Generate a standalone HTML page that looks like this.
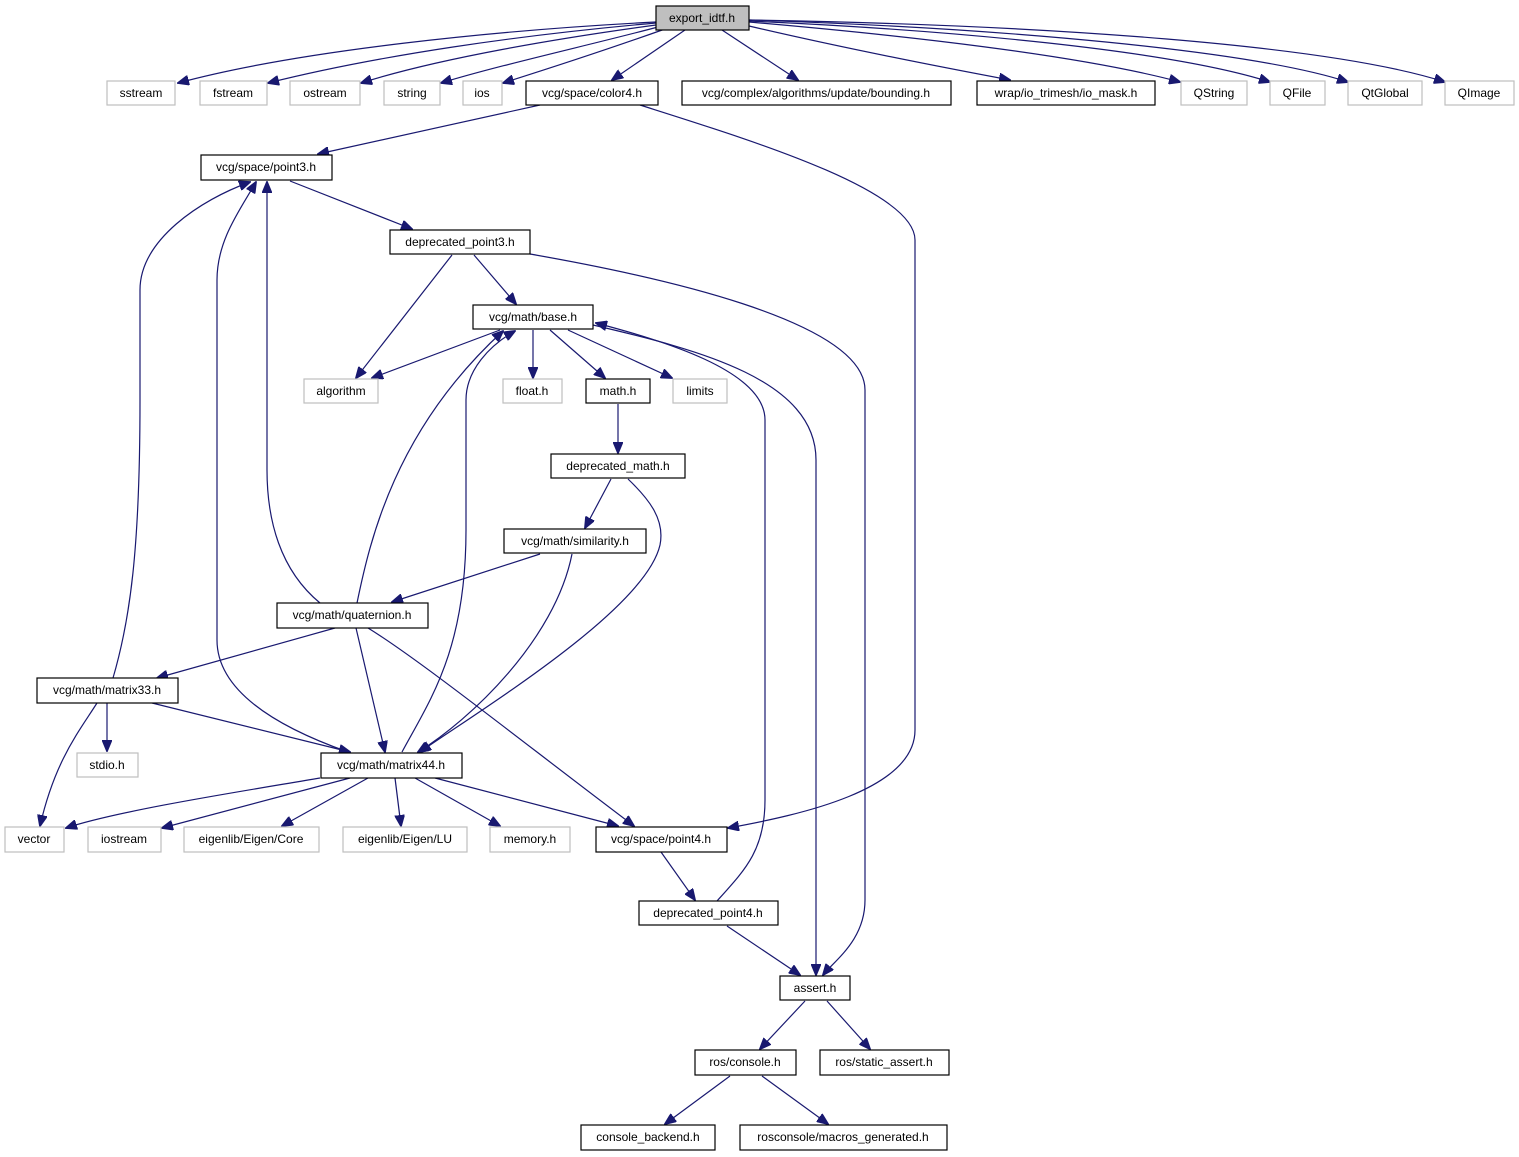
<!DOCTYPE html>
<html><head><meta charset="utf-8"><style>
html,body{margin:0;padding:0;background:#fff;}
svg{display:block;}
text{font-family:"Liberation Sans",sans-serif;font-size:12px;fill:#000;text-anchor:middle;}
.b{fill:#fff;stroke:#000;stroke-width:1.2;}
.g{fill:#fff;stroke:#bfbfbf;stroke-width:1.2;}
.r{fill:#bfbfbf;stroke:#000;stroke-width:1.2;}
path{fill:none;stroke:#191970;stroke-width:1.2;}
</style></head><body>
<svg width="1519" height="1157" viewBox="0 0 1519 1157" xmlns="http://www.w3.org/2000/svg">
<defs><marker id="a" markerWidth="12" markerHeight="10" refX="11" refY="5" orient="auto" markerUnits="userSpaceOnUse"><polygon points="0,0 12,5 0,10" fill="#191970" stroke="#191970"/></marker></defs>
<g marker-end="url(#a)">
<path d="M656,22 C500,30 300,50 178,83"/>
<path d="M656,23 C520,35 380,55 268,83"/>
<path d="M656,25 C560,38 440,58 361,83"/>
<path d="M658,27 C590,45 500,65 441,83"/>
<path d="M665,29 C620,45 560,65 503,83"/>
<path d="M685,30 L612,80"/>
<path d="M722,30 L798,80"/>
<path d="M749,26 C830,45 930,65 1010,80"/>
<path d="M749,22 C900,35 1080,55 1180,82"/>
<path d="M749,21 C950,30 1170,50 1270,82"/>
<path d="M749,20 C1000,28 1250,50 1348,82"/>
<path d="M749,20 C1050,25 1330,45 1445,82"/>
<path d="M540,105 L318,154"/>
<path d="M640,105 C750,140 915,190 915,240 L915,730 C915,790 800,815 728,828"/>
<path d="M290,181 L412,229"/>
<path d="M474,255 L516,304"/>
<path d="M452,255 L356,378"/>
<path d="M530,254 C650,275 865,320 865,390 L865,900 C865,940 835,960 823,975"/>
<path d="M500,330 L372,378"/>
<path d="M533,330 L533,378"/>
<path d="M550,330 L605,378"/>
<path d="M568,330 L672,378"/>
<path d="M593,325 C700,350 816,380 816,460 L816,975"/>
<path d="M618,404 L618,453"/>
<path d="M611,479 L585,528"/>
<path d="M628,479 C650,500 665,520 660,545 C645,610 480,710 420,752"/>
<path d="M540,554 L392,602"/>
<path d="M572,554 C555,640 470,720 418,752"/>
<path d="M320,603 C280,570 267,520 267,470 L267,182"/>
<path d="M357,603 C370,540 395,430 503,331"/>
<path d="M335,628 L157,678"/>
<path d="M356,628 L385,752"/>
<path d="M368,628 C420,660 520,740 634,826"/>
<path d="M113,678 C130,620 140,550 140,400 L140,290 C140,240 200,200 250,182"/>
<path d="M107,703 L107,751"/>
<path d="M97,703 C80,730 55,760 40,826"/>
<path d="M152,703 L350,752"/>
<path d="M348,752 C300,735 217,700 217,640 L217,280 C217,240 240,210 256,182"/>
<path d="M402,752 C430,700 466,650 466,530 L466,400 C466,370 490,345 515,331"/>
<path d="M320,778 C250,790 120,810 66,828"/>
<path d="M350,778 L162,828"/>
<path d="M368,778 L282,826"/>
<path d="M395,778 L401,826"/>
<path d="M415,778 L500,826"/>
<path d="M435,778 L618,826"/>
<path d="M661,852 L695,900"/>
<path d="M717,901 C745,870 765,850 765,800 L765,420 C765,370 660,340 596,323"/>
<path d="M727,926 L800,975"/>
<path d="M805,1001 L760,1049"/>
<path d="M827,1001 L870,1049"/>
<path d="M730,1076 L665,1124"/>
<path d="M762,1076 L828,1124"/>
</g>
<rect class="r" x="656" y="6" width="93" height="24"/><text x="702" y="22">export_idtf.h</text>
<rect class="g" x="107" y="81" width="68" height="24"/><text x="141" y="97">sstream</text>
<rect class="g" x="200" y="81" width="67" height="24"/><text x="233" y="97">fstream</text>
<rect class="g" x="290" y="81" width="70" height="24"/><text x="325" y="97">ostream</text>
<rect class="g" x="384" y="81" width="56" height="24"/><text x="412" y="97">string</text>
<rect class="g" x="463" y="81" width="39" height="24"/><text x="482" y="97">ios</text>
<rect class="b" x="526" y="81" width="132" height="24"/><text x="592" y="97">vcg/space/color4.h</text>
<rect class="b" x="682" y="81" width="269" height="24"/><text x="816" y="97">vcg/complex/algorithms/update/bounding.h</text>
<rect class="b" x="977" y="81" width="178" height="24"/><text x="1066" y="97">wrap/io_trimesh/io_mask.h</text>
<rect class="g" x="1181" y="81" width="66" height="24"/><text x="1214" y="97">QString</text>
<rect class="g" x="1270" y="81" width="55" height="24"/><text x="1297" y="97">QFile</text>
<rect class="g" x="1348" y="81" width="74" height="24"/><text x="1385" y="97">QtGlobal</text>
<rect class="g" x="1445" y="81" width="69" height="24"/><text x="1479" y="97">QImage</text>
<rect class="b" x="201" y="155" width="131" height="25"/><text x="266" y="171">vcg/space/point3.h</text>
<rect class="b" x="390" y="230" width="140" height="24"/><text x="460" y="246">deprecated_point3.h</text>
<rect class="b" x="473" y="305" width="120" height="24"/><text x="533" y="321">vcg/math/base.h</text>
<rect class="g" x="304" y="379" width="74" height="24"/><text x="341" y="395">algorithm</text>
<rect class="g" x="503" y="379" width="59" height="24"/><text x="532" y="395">float.h</text>
<rect class="b" x="586" y="379" width="64" height="24"/><text x="618" y="395">math.h</text>
<rect class="g" x="673" y="379" width="54" height="24"/><text x="700" y="395">limits</text>
<rect class="b" x="551" y="454" width="134" height="24"/><text x="618" y="470">deprecated_math.h</text>
<rect class="b" x="504" y="529" width="142" height="24"/><text x="575" y="545">vcg/math/similarity.h</text>
<rect class="b" x="277" y="603" width="151" height="25"/><text x="352" y="619">vcg/math/quaternion.h</text>
<rect class="b" x="37" y="678" width="141" height="25"/><text x="107" y="694">vcg/math/matrix33.h</text>
<rect class="g" x="77" y="753" width="61" height="24"/><text x="107" y="769">stdio.h</text>
<rect class="b" x="321" y="753" width="141" height="25"/><text x="391" y="769">vcg/math/matrix44.h</text>
<rect class="g" x="5" y="827" width="59" height="25"/><text x="34" y="843">vector</text>
<rect class="g" x="88" y="827" width="73" height="25"/><text x="124" y="843">iostream</text>
<rect class="g" x="184" y="827" width="135" height="25"/><text x="251" y="843">eigenlib/Eigen/Core</text>
<rect class="g" x="343" y="827" width="124" height="25"/><text x="405" y="843">eigenlib/Eigen/LU</text>
<rect class="g" x="490" y="827" width="80" height="25"/><text x="530" y="843">memory.h</text>
<rect class="b" x="596" y="827" width="131" height="25"/><text x="661" y="843">vcg/space/point4.h</text>
<rect class="b" x="639" y="901" width="139" height="24"/><text x="708" y="917">deprecated_point4.h</text>
<rect class="b" x="780" y="976" width="70" height="24"/><text x="815" y="992">assert.h</text>
<rect class="b" x="695" y="1050" width="101" height="25"/><text x="745" y="1066">ros/console.h</text>
<rect class="b" x="820" y="1050" width="129" height="25"/><text x="884" y="1066">ros/static_assert.h</text>
<rect class="b" x="581" y="1125" width="134" height="25"/><text x="648" y="1141">console_backend.h</text>
<rect class="b" x="740" y="1125" width="207" height="25"/><text x="843" y="1141">rosconsole/macros_generated.h</text>
</svg>
</body></html>
